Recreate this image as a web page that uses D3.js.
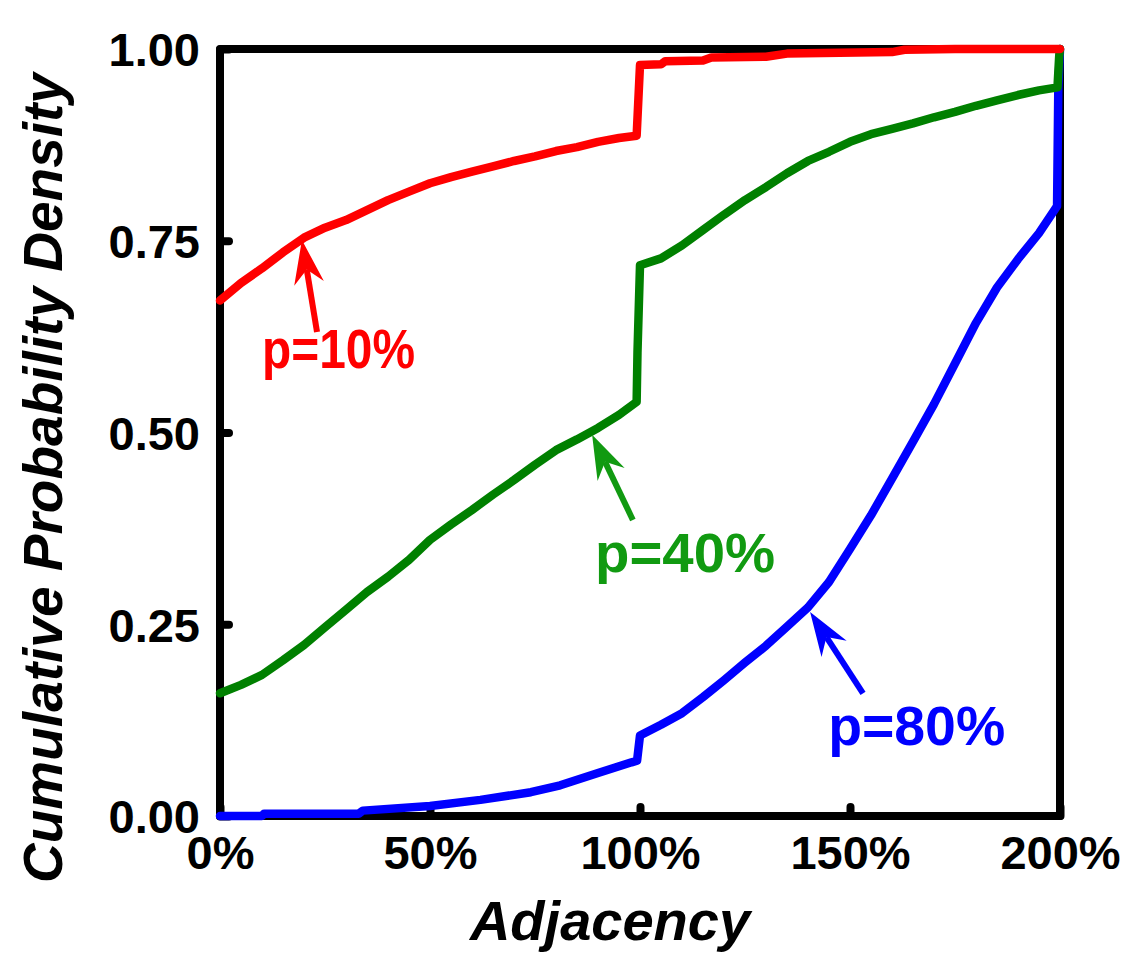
<!DOCTYPE html>
<html>
<head>
<meta charset="utf-8">
<script src="https://cdn.jsdelivr.net/npm/d3@7"></script>
<style>
  html, body { margin: 0; padding: 0; background: #fff; }
  svg { display: block; }
  text { font-family: "Liberation Sans", Arial, sans-serif; font-weight: bold; }
</style>
</head>
<body>
<svg id="chart" width="1135" height="957"></svg>
<script>
// Adjacency (%) and cumulative probability for each p
const redX   = [0, 5, 10, 15, 20, 25, 30, 35, 40, 45, 50, 55, 60, 65, 70, 75, 80, 85, 90, 95, 99.2, 100, 105, 106, 115, 117, 130, 135, 160, 163, 175, 200];
const redY   = [0.672, 0.695, 0.714, 0.735, 0.754, 0.767, 0.777, 0.790, 0.803, 0.814, 0.825, 0.833, 0.840, 0.847, 0.854, 0.860, 0.867, 0.872, 0.879, 0.884, 0.887, 0.979, 0.980, 0.984, 0.985, 0.989, 0.990, 0.994, 0.996, 0.999, 1.0, 1.0];

const greenX = [0, 5, 10, 15, 20, 25, 30, 35, 40, 45, 50, 55, 60, 65, 70, 75, 80, 85, 90, 95, 99.2, 99.4, 100, 105, 110, 115, 120, 125, 130, 135, 140, 145, 150, 155, 160, 165, 170, 175, 180, 185, 190, 195, 199.4, 199.8, 200];
const greenY = [0.160, 0.171, 0.184, 0.203, 0.223, 0.246, 0.269, 0.292, 0.312, 0.334, 0.360, 0.380, 0.399, 0.419, 0.438, 0.458, 0.477, 0.491, 0.506, 0.523, 0.540, 0.604, 0.718, 0.727, 0.744, 0.764, 0.784, 0.803, 0.820, 0.838, 0.854, 0.866, 0.879, 0.889, 0.896, 0.903, 0.911, 0.918, 0.926, 0.933, 0.940, 0.946, 0.950, 0.990, 1.0];

const blueX  = [0, 10, 10.5, 33, 34, 50, 62, 74, 81, 90, 98, 99.3, 100, 105, 110, 115, 120, 125, 130, 135, 140, 145, 150, 155, 160, 165, 170, 175, 180, 185, 190, 195, 199.3, 199.6, 200];
const blueY  = [0.0, 0.0, 0.003, 0.003, 0.007, 0.013, 0.021, 0.031, 0.040, 0.056, 0.070, 0.072, 0.105, 0.119, 0.134, 0.155, 0.177, 0.200, 0.222, 0.247, 0.272, 0.305, 0.348, 0.392, 0.440, 0.488, 0.537, 0.590, 0.643, 0.689, 0.726, 0.760, 0.795, 0.950, 1.0];

// Axis ticks
const xTicks = [0, 50, 100, 150, 200];
const yTicks = [0, 0.25, 0.5, 0.75, 1.0];

// Series labels and their pointer arrows (data units)
const labelText  = ["p=10%", "p=40%", "p=80%"];
const labelWidth = [153, 180, 177];
const labelX     = [10, 89.3, 144.8];
const labelY     = [0.584, 0.318, 0.093];
const arrowTipX  = [19.5, 88.6, 140.5];
const arrowTipY  = [0.751, 0.497, 0.266];
const arrowTailX = [23.1, 98.3, 153.1];
const arrowTailY = [0.631, 0.386, 0.160];
const lineColors  = ["#ff0000", "#008000", "#0000ff"];
const labelColors = ["#ff0000", "#119a11", "#0000ff"];

const svg = d3.select("#chart");
const plotLeft = 220, plotRight = 1060, plotTop = 49, plotBottom = 816;

const x = d3.scaleLinear().domain([0, 200]).range([plotLeft, plotRight]);
const y = d3.scaleLinear().domain([0, 1]).range([plotBottom, plotTop]);

// Frame
svg.append("rect")
  .attr("x", plotLeft).attr("y", plotTop)
  .attr("width", plotRight - plotLeft).attr("height", plotBottom - plotTop)
  .attr("fill", "none").attr("stroke", "#000")
  .attr("stroke-width", 8).attr("stroke-linejoin", "round");

// Axes with short inward ticks
const yAxis = svg.append("g")
  .attr("transform", `translate(${plotLeft},0)`)
  .call(d3.axisLeft(y).tickValues(yTicks).tickSize(-9).tickPadding(20).tickFormat(d3.format(".2f")));
const xAxis = svg.append("g")
  .attr("transform", `translate(0,${plotBottom})`)
  .call(d3.axisBottom(x).tickValues(xTicks).tickSize(-9).tickPadding(20).tickFormat(d => d + "%"));

[yAxis, xAxis].forEach(g => {
  g.select(".domain").remove();
  g.selectAll(".tick line").attr("stroke", "#000").attr("stroke-width", 8).attr("stroke-linecap", "round");
  g.selectAll(".tick text").attr("fill", "#000").style("font-size", "47px")
    .style("font-family", "'Liberation Sans', Arial, sans-serif").style("font-weight", "bold");
});
yAxis.selectAll(".tick text").attr("dy", "0.36em");

// Curves
const series = [
  { xs: blueX,  ys: blueY,  color: lineColors[2] },
  { xs: greenX, ys: greenY, color: lineColors[1] },
  { xs: redX,   ys: redY,   color: lineColors[0] }
];
const line = d3.line().x(d => x(d[0])).y(d => y(d[1]));
series.forEach(s => {
  svg.append("path")
    .datum(s.xs.map((v, i) => [v, s.ys[i]]))
    .attr("d", line)
    .attr("fill", "none")
    .attr("stroke", s.color)
    .attr("stroke-width", 8.5)
    .attr("stroke-linejoin", "round")
    .attr("stroke-linecap", "round");
});

// Pointer arrows and labels
labelText.forEach((t, i) => {
  const tx = x(arrowTipX[i]), ty = y(arrowTipY[i]);
  const bx = x(arrowTailX[i]), by = y(arrowTailY[i]);
  const len = Math.hypot(bx - tx, by - ty);
  const ux = (bx - tx) / len, uy = (by - ty) / len;
  const nx = -uy, ny = ux;
  const headLen = 44, headHalf = 15, notch = 30;
  const g = svg.append("g").attr("fill", labelColors[i]).attr("stroke", labelColors[i]);
  g.append("line")
    .attr("x1", tx + ux * notch).attr("y1", ty + uy * notch)
    .attr("x2", bx).attr("y2", by)
    .attr("stroke-width", 6);
  const pts = [
    [tx, ty],
    [tx + ux * headLen + nx * headHalf, ty + uy * headLen + ny * headHalf],
    [tx + ux * notch, ty + uy * notch],
    [tx + ux * headLen - nx * headHalf, ty + uy * headLen - ny * headHalf]
  ];
  g.append("path").attr("d", "M" + pts.map(p => p.join(",")).join("L") + "Z").attr("stroke", "none");

  svg.append("text")
    .attr("x", x(labelX[i])).attr("y", y(labelY[i]))
    .attr("fill", labelColors[i])
    .attr("textLength", labelWidth[i])
    .attr("lengthAdjust", "spacingAndGlyphs")
    .style("font-size", "56px")
    .text(t);
});

// Axis titles
svg.append("text")
  .attr("x", 610).attr("y", 940)
  .attr("text-anchor", "middle")
  .style("font-size", "56px").style("font-style", "italic")
  .text("Adjacency");

svg.append("text")
  .attr("transform", "translate(62,478) rotate(-90)")
  .attr("text-anchor", "middle")
  .style("font-size", "55px").style("font-style", "italic")
  .text("Cumulative Probability Density");
</script>
</body>
</html>
